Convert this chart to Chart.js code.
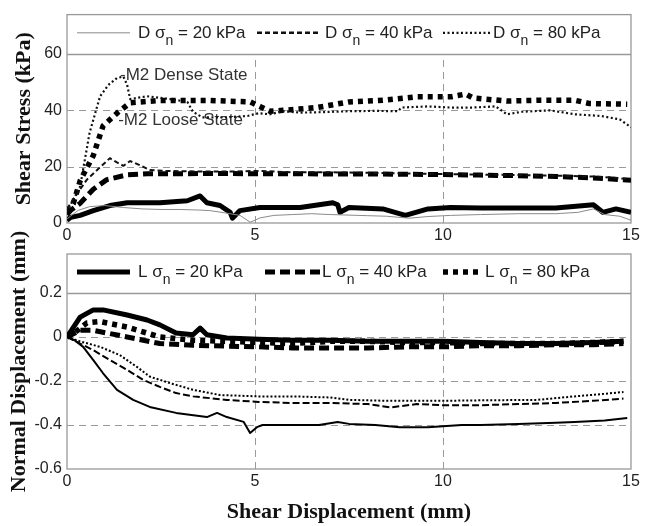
<!DOCTYPE html>
<html><head><meta charset="utf-8">
<script src="https://cdn.jsdelivr.net/npm/chart.js@4.4.1/dist/chart.umd.min.js"></script>
<style>
html,body{margin:0;padding:0;background:#fff;}
#wrap{position:relative;width:646px;height:526px;overflow:hidden;background:#fff;}
#c1{position:absolute;left:0;top:0;}
#c2{position:absolute;left:0;top:215px;}
</style></head><body>
<div id="wrap"><canvas id="c1" width="646" height="246"></canvas><canvas id="c2" width="646" height="311"></canvas></div>
<script>
// ---------- DATA ----------
const X_TICKS = [0, 5, 10, 15];
const TOP_Y_TICKS = [0, 20, 40, 60];
const BOT_Y_TICKS = [-0.6, -0.4, -0.2, 0, 0.2];
const PRESSURES = [20, 40, 80];

// Top panel: shear stress (kPa)
const topD20x = [0, 0.1, 0.3, 0.6, 1.0, 1.5, 2.0, 2.5, 3.0, 3.5, 3.8, 4.2, 4.6, 4.87, 5.0, 5.13, 5.5, 6.0, 6.5, 7.0, 7.5, 8.0, 8.5, 9.1, 9.6, 10.2, 11.0, 12.0, 13.0, 13.6, 14.0, 14.3, 14.7, 15.0];
const topD20y = [1.5, 2.5, 4.5, 5.8, 6.2, 5.5, 5.0, 4.8, 4.8, 4.6, 4.4, 3.6, 2.7, 0.3, 1.0, 1.8, 2.7, 3.0, 3.3, 3.0, 2.8, 2.6, 2.4, 1.7, 2.3, 2.7, 3.0, 3.3, 3.3, 3.8, 5.0, 3.0, 2.4, 1.0];
const topD40x = [0, 0.17, 0.53, 0.88, 1.14, 1.33, 1.5, 1.68, 1.94, 2.2, 2.6, 3.5, 4.5, 5.1, 6, 7, 8, 9, 10, 11, 12, 13, 14, 14.6, 15];
const topD40y = [5, 8.5, 15.4, 19.8, 23, 21.5, 20.3, 22, 20.5, 18.8, 18.5, 18.3, 18.3, 18.5, 18, 18, 17.8, 17.6, 17.4, 17.2, 17, 16.8, 16.5, 16, 15.5];
const topD80x = [0, 0.35, 0.6, 0.88, 1.1, 1.33, 1.5, 1.6, 1.68, 1.9, 2.13, 2.74, 3.2, 3.35, 3.6, 4.2, 4.8, 5.1, 5.4, 5.74, 6.2, 6.65, 7.5, 8.2, 8.8, 8.9, 9.6, 10.2, 10.8, 11.4, 11.7, 12.1, 12.85, 13.5, 14.2, 14.7, 15];
const topD80y = [4, 13, 32, 45, 49, 51.5, 52, 49, 44, 44.5, 45, 44, 43, 39.5, 37.5, 37.5, 38, 39, 38.6, 39.7, 39.2, 39.3, 39.7, 39.8, 39.7, 41, 41.4, 41, 41, 41.4, 38.6, 39.5, 40, 38.6, 38, 36.8, 34];
const topL20x = [0, 0.1, 0.35, 0.7, 1.14, 1.6, 2.47, 3.2, 3.54, 3.72, 4.07, 4.34, 4.4, 4.6, 5.13, 6.2, 7.07, 7.2, 7.26, 7.5, 8.4, 9.0, 9.6, 10.2, 11, 12, 13, 14, 14.25, 14.6, 15];
const topL20y = [1, 2, 2.7, 4.4, 6.2, 7.2, 7.2, 7.9, 9.6, 7.2, 6.2, 3.8, 1.7, 4.4, 5.5, 5.5, 7.2, 6.5, 3.8, 5.5, 5, 2.7, 5, 5.5, 5.3, 5.3, 5.3, 6.5, 3.8, 5, 3.8];
const topL40x = [0, 0.1, 0.35, 0.7, 1.06, 1.6, 2.13, 3, 4, 5, 6, 7, 8, 9, 10, 11, 12, 13, 14, 15];
const topL40y = [3, 4.5, 7, 12, 15.4, 17.1, 17.5, 17.5, 17.6, 17.5, 17.5, 17.4, 17.4, 17.3, 17.2, 17, 16.8, 16.5, 16, 15.2];
const topL80x = [0, 0.17, 0.35, 0.7, 0.96, 1.33, 1.68, 2.47, 3.8, 4.87, 5.13, 5.4, 5.74, 6.65, 7.5, 8.4, 9.3, 10.2, 10.6, 10.8, 11.7, 12.6, 13.5, 13.9, 14.9];
const topL80y = [4, 7, 15, 24, 34.5, 39, 42.7, 43.5, 43.5, 43, 41.4, 39.7, 40, 41, 43, 43.6, 44.8, 44.8, 45.8, 44.4, 43.3, 43.6, 43.6, 42.4, 42.2];

// Bottom panel: normal displacement (mm)
const botL20x = [0, 0.35, 0.7, 0.96, 1.6, 2.13, 2.47, 2.9, 3.35, 3.54, 3.72, 4.25, 5.1, 6, 7, 8, 9, 10, 11, 12, 13, 14, 14.8];
const botL20y = [0, 0.09, 0.123, 0.123, 0.1, 0.077, 0.055, 0.018, 0.01, 0.04, 0.01, -0.005, -0.01, -0.015, -0.015, -0.02, -0.02, -0.02, -0.025, -0.03, -0.03, -0.025, -0.02];
const botL40x = [0, 0.35, 0.7, 1.6, 2.47, 3.35, 5.1, 6, 7, 8, 9, 10, 11, 12, 13, 14, 14.8];
const botL40y = [0, 0.03, 0.03, 0, -0.03, -0.038, -0.045, -0.05, -0.05, -0.05, -0.045, -0.045, -0.04, -0.04, -0.035, -0.035, -0.03];
const botL80x = [0, 0.17, 0.53, 0.88, 1.6, 2.47, 3.35, 5.1, 6, 7, 8, 9, 10, 11, 12, 13, 14, 14.8];
const botL80y = [0, 0.015, 0.064, 0.07, 0.045, 0, -0.015, -0.025, -0.03, -0.02, -0.02, -0.025, -0.025, -0.03, -0.03, -0.03, -0.025, -0.02];
const botD20x = [0, 0.2, 0.43, 0.7, 0.96, 1.33, 1.76, 2.2, 2.9, 3.72, 3.99, 4.25, 4.7, 4.87, 5.05, 5.2, 6, 6.7, 7.2, 7.5, 8.2, 8.85, 9.6, 10.5, 11, 12, 13, 13.5, 14.3, 14.9];
const botD20y = [0, -0.015, -0.045, -0.105, -0.165, -0.24, -0.286, -0.318, -0.345, -0.364, -0.345, -0.364, -0.386, -0.436, -0.41, -0.4, -0.4, -0.4, -0.386, -0.395, -0.4, -0.41, -0.41, -0.4, -0.4, -0.395, -0.39, -0.386, -0.38, -0.368];
const botD40x = [0, 0.35, 0.7, 1.14, 1.6, 2.03, 2.47, 2.9, 3.35, 4.25, 5.1, 6, 7, 8, 8.6, 9.3, 10, 11, 12, 13, 14, 14.8];
const botD40y = [0, -0.03, -0.06, -0.105, -0.15, -0.195, -0.227, -0.255, -0.27, -0.286, -0.295, -0.3, -0.3, -0.305, -0.32, -0.305, -0.31, -0.31, -0.305, -0.3, -0.29, -0.28];
const botD80x = [0, 0.35, 0.88, 1.4, 1.86, 2.2, 2.74, 3.35, 4.07, 5.1, 6, 7, 7.5, 8.5, 10, 11, 12.5, 13.5, 14.2, 14.8];
const botD80y = [0, -0.02, -0.045, -0.082, -0.136, -0.18, -0.21, -0.24, -0.264, -0.27, -0.27, -0.275, -0.286, -0.29, -0.29, -0.288, -0.286, -0.27, -0.26, -0.25];

// ---------- HELPERS ----------
const SANS = "'Liberation Sans', Arial, sans-serif";
const SERIF = "'Liberation Serif', 'Times New Roman', serif";
const TICK_FONT = {family: SANS, size: 16};
const TITLE_FONT = {family: SERIF, size: 22, weight: 'bold'};
const TXT = '#222';

function ds(label, xs, ys, color, width, dash) {
  return {label, data: xs.map((x, i) => ({x, y: ys[i]})), borderColor: color, borderWidth: width,
    borderDash: dash, borderCapStyle: 'butt', borderJoinStyle: 'round', pointRadius: 0, fill: false, tension: 0};
}

const framePlugin = {
  id: 'frame',
  beforeDatasetsDraw(chart, args, o) {
    const {ctx, chartArea: a} = chart; const x = chart.scales.x, y = chart.scales.y;
    const legY = Math.round(y.getPixelForValue(o.legendValue)) + 0.5;
    ctx.save();
    ctx.strokeStyle = '#9a9a9a'; ctx.lineWidth = 1; ctx.setLineDash([7, 5]);
    y.ticks.forEach(t => {
      if (t.value === y.min || t.value === o.legendValue) return;
      const py = Math.round(y.getPixelForValue(t.value)) + 0.5;
      ctx.beginPath(); ctx.moveTo(a.left, py); ctx.lineTo(a.right, py); ctx.stroke();
    });
    x.ticks.forEach(t => {
      if (t.value === x.min || t.value === x.max) return;
      const px = Math.round(x.getPixelForValue(t.value)) + 0.5;
      ctx.beginPath(); ctx.moveTo(px, a.bottom); ctx.lineTo(px, legY); ctx.stroke();
    });
    ctx.setLineDash([]);
    ctx.strokeStyle = '#999'; ctx.lineWidth = 1.3;
    ctx.beginPath(); ctx.moveTo(a.left, legY); ctx.lineTo(a.right, legY); ctx.stroke();
    ctx.strokeRect(a.left, a.top, a.right - a.left, a.bottom - a.top);
    ctx.restore();
  }
};

const legendPlugin = {
  id: 'boxLegend',
  afterDraw(chart, args, o) {
    const {ctx, chartArea: a} = chart; const y = chart.scales.y;
    const cy = (a.top + y.getPixelForValue(o.legendValue)) / 2;
    ctx.save();
    o.items.forEach(it => {
      const d = chart.data.datasets[it.ds];
      ctx.strokeStyle = d.borderColor; ctx.lineWidth = it.lw || d.borderWidth; ctx.setLineDash(d.borderDash || []); ctx.lineCap = 'butt';
      ctx.beginPath(); ctx.moveTo(a.left + it.x0, cy - 1.5); ctx.lineTo(a.left + it.x1, cy - 1.5); ctx.stroke();
      ctx.setLineDash([]);
      ctx.fillStyle = TXT; ctx.textBaseline = 'alphabetic'; ctx.textAlign = 'left';
      let tx = a.left + it.tx; const by = cy + 3.5;
      ctx.font = '17px ' + SANS; ctx.fillText(it.pre, tx, by); tx += ctx.measureText(it.pre).width;
      ctx.font = '14px ' + SANS; ctx.fillText('n', tx, by + 7.5); tx += ctx.measureText('n').width;
      ctx.font = '17px ' + SANS; ctx.fillText(it.post, tx, by);
    });
    ctx.restore();
  }
};

const notesPlugin = {
  id: 'notes',
  beforeDatasetsDraw(chart, args, o) {
    if (!o.items) return;
    const {ctx} = chart; const x = chart.scales.x, y = chart.scales.y;
    ctx.save();
    ctx.font = '17px ' + SANS; ctx.fillStyle = '#333'; ctx.textBaseline = 'middle'; ctx.textAlign = 'left';
    o.items.forEach(n => ctx.fillText(n.text, x.getPixelForValue(n.x), y.getPixelForValue(n.y)));
    ctx.restore();
  }
};

function xScale(height, title) {
  const s = {type: 'linear', min: X_TICKS[0], max: X_TICKS[X_TICKS.length - 1],
    afterBuildTicks: sc => { sc.ticks = X_TICKS.map(v => ({value: v})); },
    ticks: {font: TICK_FONT, color: TXT, padding: 3, maxRotation: 0, callback: v => String(v)},
    grid: {display: false, drawTicks: false}, border: {display: false},
    afterFit: sc => { sc.height = height; }};
  if (title) s.title = {display: true, text: title, font: TITLE_FONT, color: '#111', padding: {top: 0, bottom: 0}};
  return s;
}
function yScale(min, max, ticks, title, pad) {
  return {type: 'linear', min, max,
    afterBuildTicks: sc => { sc.ticks = ticks.map(v => ({value: v})); },
    ticks: {font: TICK_FONT, color: TXT, padding: 5, callback: v => String(v)},
    grid: {display: false, drawTicks: false}, border: {display: false},
    title: {display: true, text: title, font: TITLE_FONT, color: '#111', padding: {top: pad, bottom: 0}},
    afterFit: sc => { sc.width = 67; }};
}

const legendText = (p, k) => ({pre: p + ' σ', post: ' = ' + PRESSURES[k] + ' kPa'});

// ---------- TOP CHART ----------
new Chart(document.getElementById('c1'), {
  type: 'line',
  data: {datasets: [
    ds('D σn = 20 kPa', topD20x, topD20y, '#8a8a8a', 1, []),
    ds('D σn = 40 kPa', topD40x, topD40y, '#111', 2, [5, 3]),
    ds('D σn = 80 kPa', topD80x, topD80y, '#111', 2.2, [2, 2.5]),
    ds('L σn = 20 kPa', topL20x, topL20y, '#000', 5, []),
    ds('L σn = 40 kPa', topL40x, topL40y, '#000', 5, [10, 5]),
    ds('L σn = 80 kPa', topL80x, topL80y, '#000', 5.5, [5, 5])
  ]},
  options: {
    responsive: false, animation: false,
    layout: {padding: {top: 7, right: 15, left: 0, bottom: 0}},
    plugins: {
      legend: {display: false}, tooltip: {enabled: false},
      frame: {legendValue: 60},
      boxLegend: {legendValue: 60, items: [
        Object.assign({ds: 0, x0: 10, x1: 63, tx: 71}, legendText('D', 0)),
        Object.assign({ds: 1, x0: 190, x1: 253, tx: 258, lw: 2.5}, legendText('D', 1)),
        Object.assign({ds: 2, x0: 376, x1: 423, tx: 426}, legendText('D', 2))
      ]},
      notes: {items: [
        {text: '-M2 Dense State', x: 1.41, y: 52.3},
        {text: '-M2 Loose State', x: 1.36, y: 36.6}
      ]}
    },
    scales: {x: xScale(23, null), y: yScale(0, 74, TOP_Y_TICKS, 'Shear Stress (kPa)', 11)}
  },
  plugins: [framePlugin, legendPlugin, notesPlugin]
});

// ---------- BOTTOM CHART ----------
new Chart(document.getElementById('c2'), {
  type: 'line',
  data: {datasets: [
    ds('L σn = 20 kPa', botL20x, botL20y, '#000', 5, []),
    ds('L σn = 40 kPa', botL40x, botL40y, '#000', 5, [10, 5]),
    ds('L σn = 80 kPa', botL80x, botL80y, '#000', 5.5, [5, 5]),
    ds('D σn = 20 kPa', botD20x, botD20y, '#000', 2, []),
    ds('D σn = 40 kPa', botD40x, botD40y, '#000', 2, [7, 3]),
    ds('D σn = 80 kPa', botD80x, botD80y, '#000', 2, [2, 2])
  ]},
  options: {
    responsive: false, animation: false,
    layout: {padding: {top: 39, right: 15, left: 0, bottom: 0}},
    plugins: {
      legend: {display: false}, tooltip: {enabled: false},
      frame: {legendValue: 0.2},
      boxLegend: {legendValue: 0.2, items: [
        Object.assign({ds: 0, x0: 10, x1: 63, tx: 71, lw: 5}, legendText('L', 0)),
        Object.assign({ds: 1, x0: 198, x1: 253, tx: 255, lw: 5}, legendText('L', 1)),
        Object.assign({ds: 2, x0: 376, x1: 416, tx: 418}, legendText('L', 2))
      ]},
      notes: {}
    },
    scales: {x: xScale(57, 'Shear Displacement (mm)'), y: yScale(-0.6, 0.377, BOT_Y_TICKS, 'Normal Displacement (mm)', 6)}
  },
  plugins: [framePlugin, legendPlugin, notesPlugin]
});
</script>
</body></html>
